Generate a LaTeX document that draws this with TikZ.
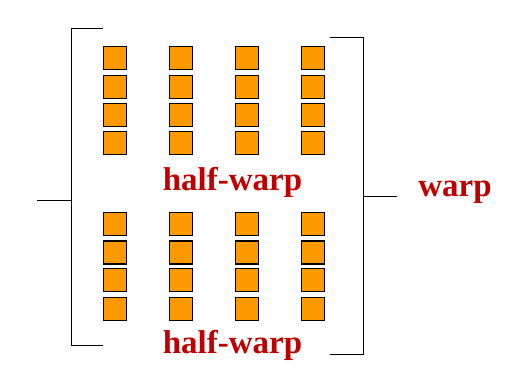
\documentclass[tikz,border=0pt]{standalone}
\usepackage{fontspec}
\setmainfont{Liberation Serif}
\definecolor{cell}{RGB}{255,153,0}
\definecolor{lbl}{RGB}{192,0,0}
\begin{document}
\begin{tikzpicture}[x=1pt,y=-1pt,
  cellbox/.style={draw=black,line width=1.2pt,fill=cell,minimum size=23pt,inner sep=0pt,anchor=north west},
  lbltext/.style={text=lbl,font=\fontsize{33}{33}\selectfont\bfseries,anchor=base,inner sep=0pt},
  brk/.style={draw=black,line width=1pt}]
\useasboundingbox (0,0) rectangle (505,383);
% upper half-warp
\foreach \c/\x in {1/102.5,2/168.7,3/234.9,4/301.1}{
  \foreach \r/\y in {1/46,2/75,3/102.5,4/131}{
    \node[cellbox] (u\c\r) at (\x,\y) {};
  }
  \foreach \r/\y in {1/211.7,2/240.3,3/267.8,4/296.7}{
    \node[cellbox] (l\c\r) at (\x,\y) {};
  }
}
\node[lbltext] (hw1) at (232.5,190) {half-warp};
\node[lbltext] (hw2) at (232.5,353) {half-warp};
\node[lbltext] (w) at (455,196.7) {warp};
% left bracket
\coordinate (la) at (103,28);
\coordinate (lb) at (71,28);
\coordinate (lc) at (71,345);
\coordinate (ld) at (103,345);
\coordinate (ls1) at (37,200);
\coordinate (ls2) at (71,200);
\draw[brk] (la) -- (lb) -- (lc) -- (ld);
\draw[brk] (ls1) -- (ls2);
% right bracket
\coordinate (ra) at (330,37.5);
\coordinate (rb) at (363.3,37.5);
\coordinate (rc) at (363.3,354.7);
\coordinate (rd) at (330,354.7);
\coordinate (rs1) at (363.3,196.5);
\coordinate (rs2) at (397,196.5);
\draw[brk] (ra) -- (rb) -- (rc) -- (rd);
\draw[brk] (rs1) -- (rs2);
\end{tikzpicture}
\end{document}
